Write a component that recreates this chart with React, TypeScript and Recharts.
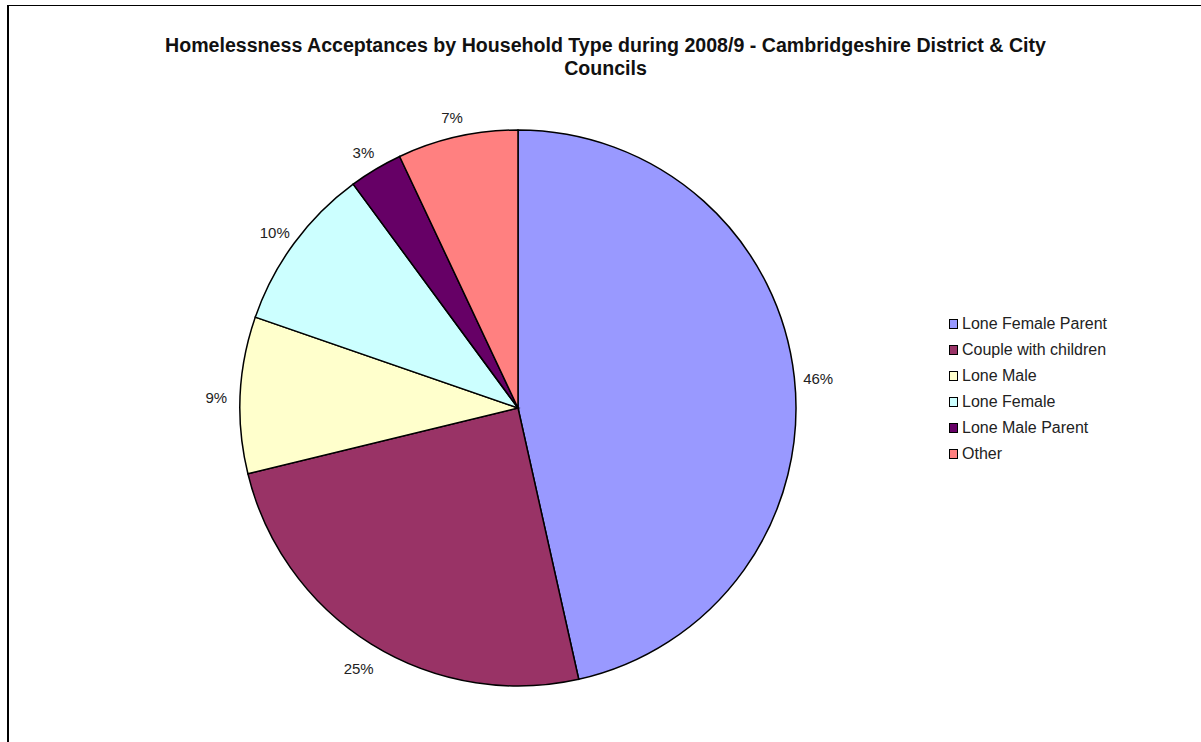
import { PieChart, Pie, Cell, Legend } from 'recharts';

const categories = [
    'Lone Female Parent',
    'Couple with children',
    'Lone Male',
    'Lone Female',
    'Lone Male Parent',
    'Other'
];
const shares = [46.49, 24.7, 9.1, 9.6, 3.1, 7.0];
const colors = ['#9999FF', '#993366', '#FFFFCC', '#CCFFFF', '#660066', '#FF8080'];

const data = categories.map((name, i) => ({ name, value: shares[i] }));

const RAD = Math.PI / 180;
const font = '"Liberation Sans", Arial, sans-serif';

const renderLabel = (props: any) => {
    const { cx, cy, midAngle, outerRadius, percent } = props;
    const r = outerRadius + 24;
    const x = cx + r * Math.cos(-midAngle * RAD);
    const y = cy + r * Math.sin(-midAngle * RAD) + 4;
    return (
        <text x={x} y={y} fill="#222" fontSize={15} fontFamily={font} textAnchor="middle" dominantBaseline="central">
            {`${Math.round(percent * 100)}%`}
        </text>
    );
};

const LegendBox = () => (
    <div style={{ fontFamily: font, fontSize: 16, color: '#222' }}>
        {categories.map((c, i) => (
            <div key={c} style={{ display: 'flex', alignItems: 'center', height: 26 }}>
                <span style={{ width: 7, height: 8, background: colors[i], border: '1.5px solid #000', marginRight: 4 }} />
                <span>{c}</span>
            </div>
        ))}
    </div>
);

export default function App() {
    return (
        <div style={{ position: 'absolute', left: 0, top: 0, width: 1201, height: 742, overflow: 'hidden', background: '#fff' }}>
            <div style={{ position: 'absolute', left: 7, top: 5, width: 1194, height: 737, boxSizing: 'border-box', borderTop: '1.5px solid #000', borderLeft: '2px solid #000' }} />
            <div style={{ position: 'absolute', left: 0, top: 34, width: 1211, textAlign: 'center', fontFamily: font, fontWeight: 'bold', fontSize: 19.6, lineHeight: '23px', color: '#111' }}>
                Homelessness Acceptances by Household Type during 2008/9 - Cambridgeshire District &amp; City
                <br />
                Councils
            </div>
            <div style={{ position: 'absolute', left: 0, top: 0 }}>
                <PieChart width={1201} height={742}>
                    <Pie
                        data={data}
                        dataKey="value"
                        nameKey="name"
                        cx={513}
                        cy={403}
                        outerRadius={278}
                        startAngle={90}
                        endAngle={-270}
                        stroke="#000"
                        strokeWidth={1.5}
                        label={renderLabel}
                        labelLine={false}
                        isAnimationActive={false}
                    >
                        {data.map((d, i) => (
                            <Cell key={d.name} fill={colors[i]} />
                        ))}
                    </Pie>
                    <Legend content={<LegendBox />} wrapperStyle={{ position: 'absolute', left: 949, top: 311, width: 220 }} />
                </PieChart>
            </div>
        </div>
    );
}
